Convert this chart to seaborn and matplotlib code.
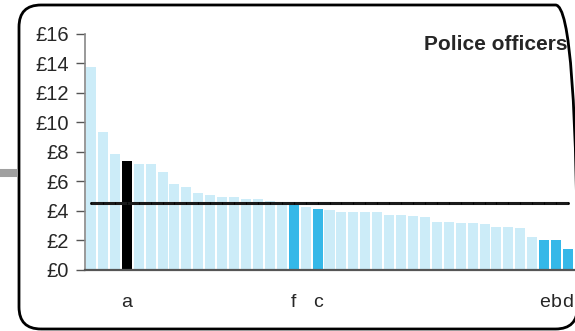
import seaborn as sns
import numpy as np
import matplotlib.pyplot as plt
import pandas as pd
from matplotlib.patches import FancyBboxPatch
from matplotlib.lines import Line2D

# cost per head, sorted high to low
values = [13.74, 9.33, 7.84, 7.36, 7.16, 7.16, 6.61, 5.80, 5.60, 5.19,
          5.05, 4.92, 4.92, 4.78, 4.78, 4.65, 4.56, 4.55, 4.24, 4.10,
          4.04, 3.90, 3.90, 3.90, 3.90, 3.70, 3.70, 3.63, 3.56, 3.22,
          3.22, 3.15, 3.15, 3.08, 2.88, 2.88, 2.81, 2.20, 2.00, 2.00, 1.39]
average = 4.5
# which bars are picked out, and their letters
group = ['other'] * len(values)
group[3] = 'a'
for i in [17, 19, 38, 39, 40]:
    group[i] = 'peer'
label_pos = [3, 17, 19, 38, 39, 40]
label_txt = ['a', 'f', 'c', 'e', 'b', 'd']
yticks = [0, 2, 4, 6, 8, 10, 12, 14, 16]
title = 'Police officers'

df = pd.DataFrame({'idx': range(len(values)), 'cost': values, 'group': group})
palette = {'other': '#CCECF8', 'peer': '#35B8E8', 'a': '#000000'}

sns.set_style('white')
plt.rcParams['font.family'] = ['Liberation Sans', 'DejaVu Sans']

fig = plt.figure(figsize=(5.75, 3.31), dpi=100)
ax = fig.add_axes([85 / 575, 61.5 / 331, 489 / 575, 235.8 / 331])

sns.barplot(data=df, x='idx', y='cost', hue='group', palette=palette,
            dodge=False, width=0.84, legend=False, saturation=1,
            linewidth=0, ax=ax)
ax.plot(df['idx'], [average] * len(values), color='#1a1a1a', lw=2.2,
        marker='|', ms=2, mew=0.8, mec='#000000')

ax.set_xlim(-0.5, len(values) - 0.5)
ax.set_ylim(0, 16)
ax.set_yticks(yticks)
ax.set_yticklabels(['£%d' % v for v in yticks], fontsize=14.5)
ax.set_xticks(label_pos)
ax.set_xticklabels(label_txt, fontsize=14)
ax.tick_params(axis='x', length=0, pad=17.5)
ax.tick_params(axis='y', length=6.5, width=1, color='#555555', pad=5, left=True)
ax.set_xlabel('')
ax.set_ylabel('')
for s in ['top', 'right']:
    ax.spines[s].set_visible(False)
ax.spines['left'].set_color('#888888')
ax.spines['left'].set_linewidth(1.2)
ax.spines['bottom'].set_color('#555555')
ax.spines['bottom'].set_linewidth(1.6)

fig.text(568 / 575, 1 - 44 / 331, title, ha='right', va='center',
         fontsize=15, fontweight='bold')

# rounded frame (right side runs just off the picture) and grey connector
box = FancyBboxPatch((0.19, 0.02), 5.585, 3.24,
                     boxstyle='round,pad=0,rounding_size=0.22',
                     transform=fig.dpi_scale_trans, fill=False,
                     edgecolor='black', lw=2, clip_on=False)
fig.patches.append(box)
fig.lines.append(Line2D([0, 17.5 / 575], [1 - 173 / 331] * 2,
                        transform=fig.transFigure, color='#A0A0A0', lw=5.8,
                        solid_capstyle='butt'))

fig.savefig('out.png', dpi=100)
